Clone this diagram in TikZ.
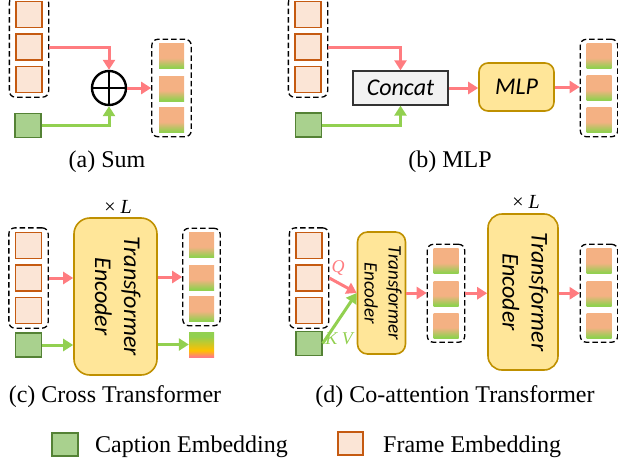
\documentclass[tikz,border=0pt]{standalone}
\usepackage{fontspec}
\setmainfont{Liberation Serif}
\newfontfamily\calibri{Carlito}
\usepackage{graphicx}
\usetikzlibrary{arrows.meta,fit}
\definecolor{frmfill}{HTML}{FBE5D6}
\definecolor{frmline}{HTML}{C55A11}
\definecolor{capfill}{HTML}{A9D18E}
\definecolor{capline}{HTML}{548235}
\definecolor{encfill}{HTML}{FFE699}
\definecolor{encline}{HTML}{BF9000}
\definecolor{arrred}{HTML}{FF7C80}
\definecolor{arrgreen}{HTML}{92D050}
\definecolor{outorange}{HTML}{F4B183}
\definecolor{outgreen}{HTML}{92D050}
\definecolor{mixyellow}{HTML}{FFC000}
\definecolor{mixred}{HTML}{FF7C80}
\pgfdeclareverticalshading{outgrad}{100bp}{color(0bp)=(outgreen); color(27bp)=(outgreen); color(46bp)=(outorange); color(100bp)=(outorange)}
\pgfdeclareverticalshading{mixgrad}{100bp}{color(0bp)=(mixred); color(26bp)=(mixred); color(38bp)=(mixyellow); color(66bp)=(outgreen); color(100bp)=(outgreen)}
\newcommand{\tfenc}{\rotatebox{-90}{\begin{tabular}{@{}c@{}}Transformer\\Encoder\end{tabular}}}
\begin{document}
\begin{tikzpicture}[x=1pt,y=-1pt,
        frm/.style={draw=frmline,fill=frmfill,line width=1.3pt,minimum width=26pt,
            minimum height=26pt,inner sep=0pt},
        capsq/.style={draw=capline,fill=capfill,line width=1.3pt,minimum width=26pt,
            minimum height=24pt,inner sep=0pt},
        outsq/.style={shading=outgrad,minimum width=25pt,minimum height=25pt,inner sep=0pt},
        grp/.style={draw,dash pattern=on 5.5pt off 3pt,line width=1.3pt,rounded corners=6pt,
            inner xsep=6pt,inner ysep=4pt},
        enc/.style={draw=encline,fill=encfill,line width=1.6pt,inner sep=0pt,
            font=\calibri\itshape\fontsize{24}{29}\selectfont},
        redarr/.style={draw=arrred,line width=3pt,-{Triangle[length=10pt,width=12pt]}},
        grnarr/.style={draw=arrgreen,line width=3pt,-{Triangle[length=10pt,width=12pt]}},
        sublbl/.style={font=\fontsize{24}{29}\selectfont},
        rep/.style={font=\fontsize{20}{24}\selectfont},
        qkv/.style={font=\fontsize{18}{22}\selectfont}]
\useasboundingbox (0,0) rectangle (618,463);

\foreach \i/\y in {1/14.5,2/47,3/79.5} \node[frm] (a\i) at (29,\y) {};
\node[grp,fit=(a1)(a3)] (ga) {};
\node[capsq] (ca) at (28,125.5) {};
\node[circle,draw,line width=2.4pt,minimum size=34pt,inner sep=0pt] (sum) at (109,88) {};
\draw[line width=2.4pt] (sum.north) -- (sum.south) (sum.west) -- (sum.east);
\foreach \i/\y in {1/56,2/88.5,3/120} \node[outsq] (oa\i) at (171.5,\y) {};
\node[grp,fit=(oa1)(oa3),inner xsep=7pt] (goa) {};
\draw[redarr] (a2 -| ga.east) -| (sum.north);
\draw[grnarr] (ca.east) -| (sum.south);
\draw[redarr] (sum.east) -- (sum.east -| goa.west);
\node[sublbl] at (107,162) {(a) Sum};

\foreach \i/\y in {1/14.5,2/47,3/79.5} \node[frm] (b\i) at (308,\y) {};
\node[grp,fit=(b1)(b3)] (gb) {};
\node[capsq] (cb) at (308.5,125) {};
\node[draw=black!80,fill=black!5,line width=1.3pt,minimum width=95pt,minimum height=34pt,
    font=\calibri\itshape\fontsize{24}{29}\selectfont] (concat) at (400.5,88) {Concat};
\node[enc,minimum width=75pt,minimum height=48pt,rounded corners=9pt] (mlp) at (516.5,87) {MLP};
\foreach \i/\y in {1/56,2/88,3/120} \node[outsq] (ob\i) at (599,\y) {};
\node[grp,fit=(ob1)(ob3)] (gob) {};
\draw[redarr] (b2 -| gb.east) -| (concat.north);
\draw[grnarr] (cb.east) -| (concat.south);
\draw[redarr] (concat.east) -- (concat.east -| mlp.west);
\draw[redarr] (mlp.east) -- (mlp.east -| gob.west);
\node[sublbl] at (450,162) {(b) MLP};

\node[rep] at (118,207) {× \textit{L}};
\foreach \i/\y in {1/245.5,2/278,3/310.5} \node[frm] (c\i) at (28.5,\y) {};
\node[grp,fit=(c1)(c3)] (gc) {};
\node[capsq] (cc) at (28.5,345) {};
\node[enc,minimum width=83pt,minimum height=157pt,rounded corners=16pt] (encc) at (115.5,296.5) {\tfenc};
\foreach \i/\y in {1/245,2/277.5,3/309} \node[outsq] (oc\i) at (201.5,\y) {};
\node[grp,fit=(oc1)(oc3)] (goc) {};
\node[shading=mixgrad,minimum width=25pt,minimum height=25pt,inner sep=0pt] (mix) at (201.5,344.5) {};
\draw[redarr] (gc.east) -- (gc.east -| encc.west);
\draw[grnarr] (cc.east) -- (cc.east -| encc.west);
\draw[redarr] (encc.east |- goc.west) -- (goc.west);
\draw[grnarr] (encc.east |- mix.west) -- (mix.west);
\node[sublbl] at (115,397) {(c) Cross Transformer};

\node[rep] at (526,202) {× \textit{L}};
\foreach \i/\y in {1/245.5,2/278,3/310.5} \node[frm] (d\i) at (309,\y) {};
\node[grp,fit=(d1)(d3)] (gd) {};
\node[capsq] (cd) at (309,343.5) {};
\node[enc,minimum width=45pt,minimum height=122pt,rounded corners=10pt,
    font=\calibri\itshape\fontsize{19}{24}\selectfont] (encd1) at (381.5,293) {\tfenc};
\foreach \i/\y in {1/261,2/293.5,3/325.5} \node[outsq] (od\i) at (446,\y) {};
\node[grp,fit=(od1)(od3)] (god) {};
\node[enc,minimum width=70pt,minimum height=156pt,rounded corners=14pt] (encd2) at (523,292) {\tfenc};
\foreach \i/\y in {1/261,2/293.5,3/325.5} \node[outsq] (oe\i) at (599,\y) {};
\node[grp,fit=(oe1)(oe3)] (goe) {};
\draw[redarr] (gd.east) -- (encd1.west);
\node[qkv,text=arrred] at (338,268) {\textit{Q}};
\draw[grnarr] (cd.east) -- (encd1.west);
\node[qkv,text=arrgreen] at (340,339) {\textit{K V}};
\draw[redarr] (encd1.east) -- (encd1.east -| god.west);
\draw[redarr] (god.east) -- (god.east -| encd2.west);
\draw[redarr] (encd2.east |- goe.west) -- (goe.west);
\node[sublbl] at (455,397) {(d) Co-attention Transformer};

\node[capsq,minimum height=23pt] (lgcap) at (65,444.5) {};
\node[sublbl,anchor=west,inner sep=0pt] (lgcaptxt) at (95,447) {Caption Embedding};
\node[frm,minimum width=25pt,minimum height=23pt] (lgfrm) at (350.5,443.5) {};
\node[sublbl,anchor=west,inner sep=0pt] (lgfrmtxt) at (383,447) {Frame Embedding};
\end{tikzpicture}
\end{document}
